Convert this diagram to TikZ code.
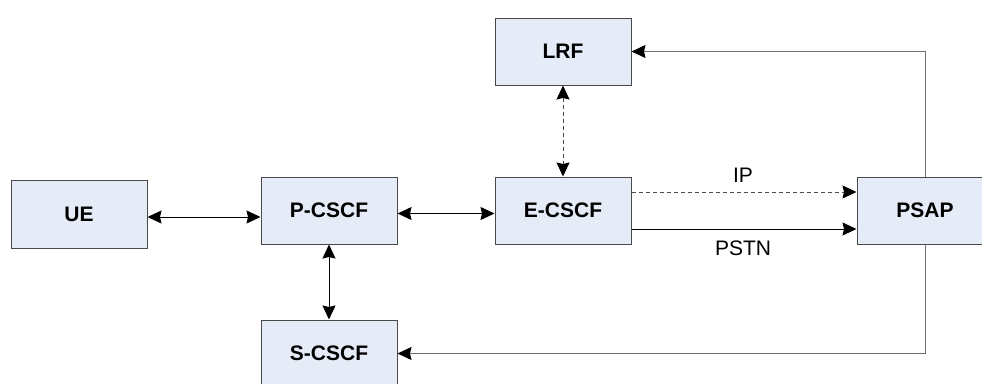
\documentclass[tikz,border=0pt]{standalone}
\usepackage{fontspec}
\setmainfont{Liberation Sans}
\usetikzlibrary{arrows.meta}
\definecolor{boxfill}{HTML}{E6ECF7}
\definecolor{boxline}{HTML}{4A4A4A}
\definecolor{feedline}{HTML}{707070}
\tikzset{
  entity/.style={draw=boxline, fill=boxfill, line width=1pt,
    minimum width=136pt, minimum height=67pt, inner sep=0pt,
    font=\fontsize{21}{24}\selectfont\bfseries},
  head/.tip={Stealth[length=14pt,width=13pt,inset=1.5pt,color=black,fill=black]},
  link/.style={line width=1pt, black},
  tip/.style={-head},
  both/.style={head-head},
  dashlink/.style={line width=1pt, boxline, dash pattern=on 4pt off 3pt},
  tag/.style={font=\fontsize{21}{24}\selectfont, inner sep=0pt}
}
\begin{document}
\begin{tikzpicture}[x=1pt, y=-1pt]
  \useasboundingbox (0,0) rectangle (982,383);
  \clip (0,0) rectangle (982,383);

  % network entities
  \node[entity, minimum height=68pt] (ue) at (79,214) {UE};
  \node[entity] (pcscf) at (329,210.5) {P-CSCF};
  \node[entity] (scscf) at (329,353.5) {S-CSCF};
  \node[entity] (lrf) at (563,51.5) {LRF};
  \node[entity] (ecscf) at (563,210.5) {E-CSCF};
  \node[entity] (psap) at (925,210.5) {PSAP};

  % signalling paths
  \draw[link, both] ([yshift=-3pt]ue.east) -- ([yshift=-3pt]ue.east -| pcscf.west);
  \draw[link, both] ([yshift=-3pt]pcscf.east) -- ([yshift=-3pt]ecscf.west);
  \draw[link, both] (pcscf.south) -- (scscf.north);
  \draw[dashlink, both] (lrf.south) -- (ecscf.north);

  % emergency call routes towards the PSAP
  \coordinate (ipstart) at ([yshift=18.5pt]ecscf.east);
  \coordinate (pstnstart) at ([yshift=-18.5pt]ecscf.east);
  \draw[dashlink, tip] (ipstart) -- (ipstart -| psap.west);
  \draw[link, tip] (pstnstart) -- (pstnstart -| psap.west);
  \node[tag] (ip) at (743,175) {IP};
  \node[tag] (pstn) at (743,248) {PSTN};

  % callback paths from the PSAP
  \draw[line width=1pt, feedline, tip] (psap.north) |- (lrf.east);
  \draw[line width=1pt, feedline, tip] (psap.south) |- (scscf.east);
\end{tikzpicture}
\end{document}
